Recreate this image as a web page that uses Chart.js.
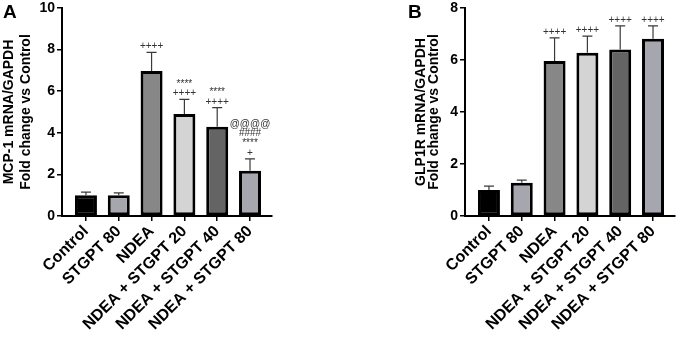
<!DOCTYPE html>
<html>
<head>
<meta charset="utf-8">
<script src="https://cdn.jsdelivr.net/npm/chart.js@4"></script>
<style>
  body { margin: 0; background: #fff; }
  #wrap { position: relative; width: 678px; height: 338px; background: #fff; }
  canvas { position: absolute; top: 0; }
  .panel { position: absolute; top: 2px; font: bold 19px/19px "Liberation Sans", Arial, sans-serif; color: #000; }
</style>
</head>
<body>
<div id="wrap">
  <canvas id="chartA" width="340" height="338" style="left:0"></canvas>
  <canvas id="chartB" width="338" height="338" style="left:340px"></canvas>
  <div class="panel" style="left:3px">A</div>
  <div class="panel" style="left:408px">B</div>
</div>
<script>
const labels = ['Control', 'STGPT 80', 'NDEA', 'NDEA + STGPT 20', 'NDEA + STGPT 40', 'NDEA + STGPT 80'];
const barColors = ['#000000', '#a6a6ae', '#878787', '#d4d4d4', '#646464', '#a6a6ae'];

// panel A - MCP-1
const mcp1Mean = [1.0, 1.0, 6.97, 4.9, 4.29, 2.18];
const mcp1Sd = [0.15, 0.11, 0.9, 0.71, 0.92, 0.57];
const mcp1Marks = [[], [], ['++++'], ['****', '++++'], ['****', '++++'], ['@@@@', '####', '****', '+']];

// panel B - GLP1R
const glp1rMean = [1.0, 1.28, 5.96, 6.28, 6.4, 6.82];
const glp1rSd = [0.15, 0.1, 0.89, 0.64, 0.91, 0.49];
const glp1rMarks = [[], [], ['++++'], ['++++'], ['++++'], ['++++']];

const FONT = '"Liberation Sans", Arial, sans-serif';

// error bars (upper only) + significance marks
const errorBarPlugin = {
  id: 'errorBars',
  afterDatasetsDraw(chart, args, opts) {
    const ctx = chart.ctx;
    const xs = chart.scales.x, ys = chart.scales.y;
    ctx.save();
    opts.means.forEach((m, i) => {
      const x = xs.getPixelForValue(i);
      const yBar = ys.getPixelForValue(m);
      const yTop = ys.getPixelForValue(m + opts.sds[i]);
      ctx.strokeStyle = '#3a3a3a';
      ctx.lineWidth = 1.2;
      ctx.beginPath();
      ctx.moveTo(x, yBar);
      ctx.lineTo(x, yTop);
      ctx.moveTo(x - 5, yTop);
      ctx.lineTo(x + 5, yTop);
      ctx.stroke();

      ctx.fillStyle = '#333';
      ctx.font = '10px ' + FONT;
      ctx.textAlign = 'center';
      ctx.textBaseline = 'alphabetic';
      const lines = opts.marks[i];
      lines.forEach((t, k) => {
        const fromBottom = lines.length - 1 - k;
        ctx.fillText(t, x, yTop - 3 - fromBottom * 9.7);
      });
    });
    ctx.restore();
  }
};

function makeChart(id, means, sds, marks, yMax, title, cfg) {
  return new Chart(document.getElementById(id), {
    type: 'bar',
    data: {
      datasets: [{
        data: means.map((v, i) => ({x: i, y: v})),
        backgroundColor: barColors,
        borderColor: '#000',
        borderWidth: 3,
        borderSkipped: false,
        categoryPercentage: 1,
        barPercentage: 0.67
      }]
    },
    options: {
      responsive: false,
      devicePixelRatio: 1,
      animation: false,
      layout: {
        padding: {left: 0, right: cfg.padRight, top: 8, bottom: 0}
      },
      plugins: {
        legend: {display: false},
        tooltip: {enabled: false},
        errorBars: {means: means, sds: sds, marks: marks}
      },
      scales: {
        x: {
          type: 'linear',
          offset: false,
          min: -0.73,
          max: 5.67,
          afterBuildTicks: s => { s.ticks = labels.map((_, i) => ({value: i})); },
          afterFit: s => { s.height = 122; },
          grid: {display: true, offset: false, drawOnChartArea: false, tickLength: 5, color: '#000', lineWidth: 1.5},
          border: {display: true, color: '#000', width: 2},
          ticks: {
            autoSkip: false,
            minRotation: 45,
            maxRotation: 45,
            padding: 1,
            color: '#000',
            font: {family: FONT, size: 16, weight: 'bold'},
            callback: v => labels[v] ?? ''
          }
        },
        y: {
          min: 0,
          max: yMax,
          afterFit: s => { s.width = cfg.yWidth; },
          grid: {display: true, drawOnChartArea: false, tickLength: 5, color: '#000', lineWidth: 1.5},
          border: {display: true, color: '#000', width: 2},
          ticks: {
            stepSize: 2,
            padding: 2,
            color: '#000',
            font: {family: FONT, size: 14, weight: 'bold', lineHeight: 0.8}
          },
          title: {
            display: true,
            text: title,
            color: '#000',
            padding: {top: cfg.titlePad, bottom: 0},
            font: {family: FONT, size: 14, weight: 'bold', lineHeight: cfg.titleLH}
          }
        }
      }
    },
    plugins: [errorBarPlugin]
  });
}

makeChart('chartA', mcp1Mean, mcp1Sd, mcp1Marks, 10,
  ['MCP-1 mRNA/GAPDH', 'Fold change vs Control'],
  {padRight: 68, yWidth: 62, titlePad: 1, titleLH: 1.2});

makeChart('chartB', glp1rMean, glp1rSd, glp1rMarks, 8,
  ['GLP1R mRNA/GAPDH', 'Fold change vs Control'],
  {padRight: 3, yWidth: 125, titlePad: 74, titleLH: 0.95});
</script>
</body>
</html>
